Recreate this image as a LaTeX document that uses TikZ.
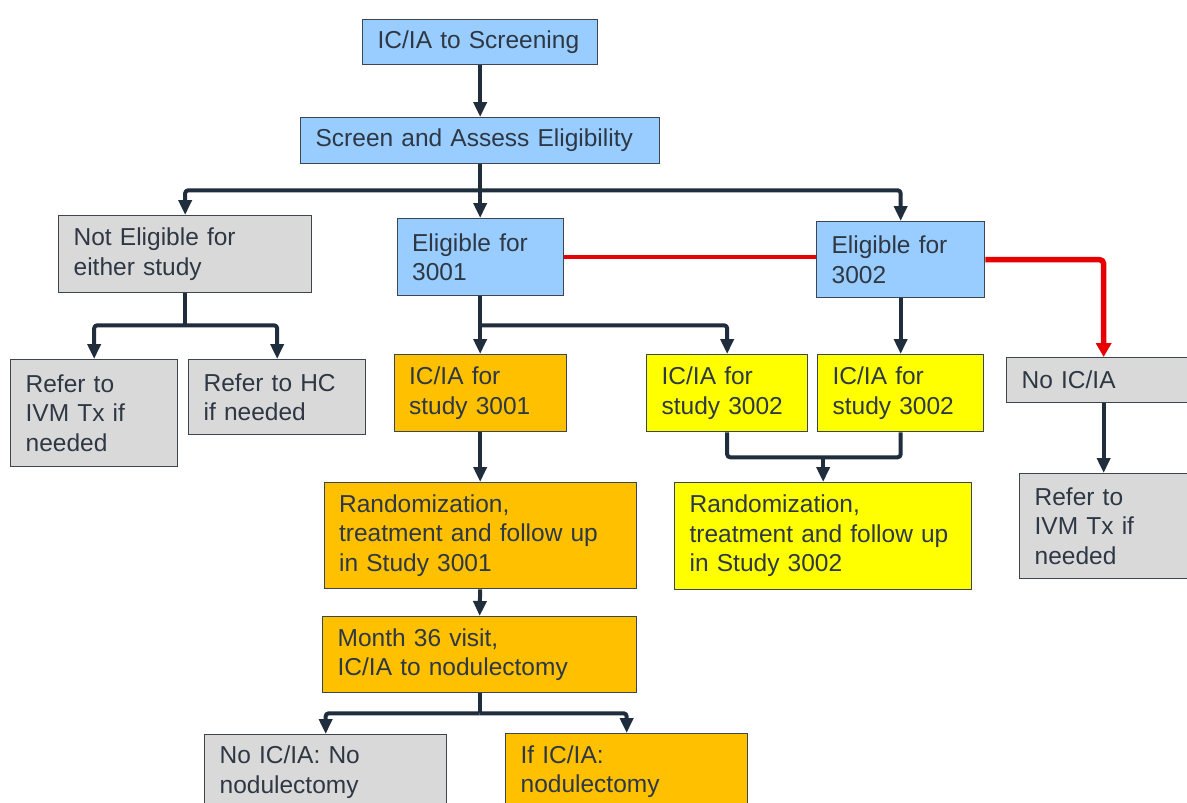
\documentclass[tikz,border=0pt]{standalone}
\usepackage{fontspec}
\setmainfont{Liberation Sans}
\usetikzlibrary{arrows.meta}
\definecolor{bluef}{HTML}{99CCFF}
\definecolor{greyf}{HTML}{D9D9D9}
\definecolor{orangef}{HTML}{FFC000}
\definecolor{yellowf}{HTML}{FFFF00}
\definecolor{linec}{HTML}{1F2D3D}
\definecolor{redc}{HTML}{E60000}
\definecolor{bordc}{HTML}{3C4650}
\definecolor{txtc}{HTML}{2E3844}
\tikzset{
  box/.style={draw=bordc, line width=1.3pt, anchor=north west, inner xsep=15pt, inner ysep=0pt,
    align=left, text=txtc, font=\fontsize{24.5}{29.5}\selectfont},
  bluebox/.style={box, fill=bluef},
  greybox/.style={box, fill=greyf},
  orangebox/.style={box, fill=orangef},
  yellowbox/.style={box, fill=yellowf},
  conn/.style={draw=linec, line width=4pt, rounded corners=3pt, line join=round},
  arr/.style={conn, -{Triangle[length=15pt,width=13pt]}},
  redconn/.style={draw=redc, line width=4.5pt, rounded corners=4pt, line join=round},
  redarr/.style={redconn, line width=5.5pt, -{Triangle[length=14pt,width=15pt]}},
}
\begin{document}
\begin{tikzpicture}[x=1pt,y=-1pt]
\fill[white] (0,0) rectangle (1187,803);
\clip (0,0) rectangle (1187,803);
\useasboundingbox (0,0) rectangle (1187,803);

% nodes
\node[bluebox, text width=205pt, minimum height=45pt] (A) at (362,19) {IC/IA to Screening};
\node[bluebox, text width=329pt, minimum height=46pt] (B) at (300,117) {Screen and Assess Eligibility};
\node[greybox, text width=223pt, minimum height=77pt] (C) at (58,215) {Not Eligible for\\either study};
\node[bluebox, text width=136pt, minimum height=77pt] (D) at (396.5,218) {Eligible for\\3001};
\node[bluebox, text width=138pt, minimum height=76pt] (E) at (816,221) {Eligible for\\3002};
\node[greybox, text width=137pt, minimum height=107pt] (G) at (10,359) {Refer to\\IVM Tx if\\needed};
\node[greybox, text width=147pt, minimum height=75pt] (H) at (188,359) {Refer to HC\\if needed};
\node[orangebox, text width=142pt, minimum height=77pt] (I) at (393.5,354) {IC/IA for\\study 3001};
\node[yellowbox, text width=131pt, minimum height=77pt] (J) at (646,354) {IC/IA for\\study 3002};
\node[yellowbox, text width=136pt, minimum height=77pt] (K) at (817,354) {IC/IA for\\study 3002};
\node[greybox, text width=164pt, minimum height=45pt] (F) at (1006,357) {No IC/IA};
\node[yellowbox, text width=267pt, minimum height=107pt] (L) at (674,482) {Randomization,\\treatment and follow up\\in Study 3002};
\node[greybox, text width=138pt, minimum height=105pt] (M) at (1019,473) {Refer to\\IVM Tx if\\needed};
\node[orangebox, text width=282pt, minimum height=106pt] (N) at (323.5,482) {Randomization,\\treatment and follow up\\in Study 3001};
\node[orangebox, text width=284pt, minimum height=76pt] (O) at (322,616) {Month 36 visit,\\IC/IA to nodulectomy};
\node[greybox, text width=212pt, minimum height=75pt] (P) at (204,734) {No IC/IA: No\\nodulectomy};
\node[orangebox, text width=212pt, minimum height=76pt] (Q) at (505,733) {If IC/IA:\\nodulectomy};

% connectors
\draw[arr] (A.south) -- (B.north);
\path (B.south) -- ++(0,26) coordinate (s1);
\draw[arr] (B.south) -- (D.north);
\draw[arr] (s1) -| (C.north);
\draw[arr] (s1) -| (E.north);

\draw[conn] (C.south) -- ++(0,32) coordinate (s2);
\draw[arr] (s2) -| (G.north);
\draw[arr] (s2) -| (H.north);

\path (D.south) -- ++(0,29) coordinate (s3);
\draw[arr] (D.south) -- (I.north);
\draw[arr] (s3) -| (J.north);

\draw[arr] (E.south) -- (K.north);

\path (J.south) -- ++(0,25) coordinate (j1);
\draw[conn] (J.south) -- (j1) -| (K.south);
\draw[arr] (j1 -| L.north) -- (L.north);

\draw[arr] (I.south) -- (N.north);
\draw[arr] (N.south) -- (O.north);

\draw[conn] (O.south) -- ++(0,20) coordinate (s4);
\draw[arr] (s4) -| (P.north);
\draw[arr] (s4) -| (Q.north);

\draw[redconn] (D.east) -- (D.east -| E.west);
\draw[redarr] (E.east) -| (F.north);
\draw[arr] (F.south) -- (M.north);
\end{tikzpicture}
\end{document}
